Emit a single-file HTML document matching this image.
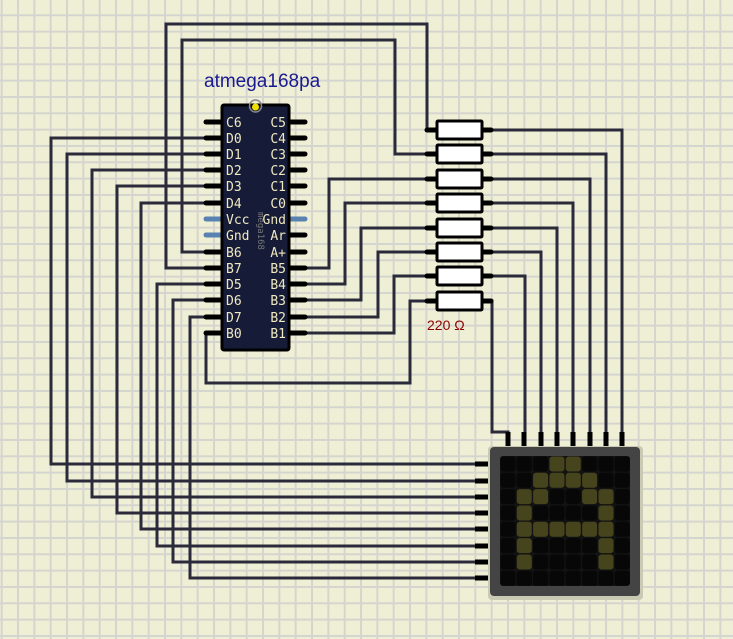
<!DOCTYPE html>
<html><head><meta charset="utf-8"><style>
html,body{margin:0;padding:0;}
body{width:733px;height:639px;overflow:hidden;background:#efefd5;}
svg{display:block;}
text{font-family:"DejaVu Sans Mono","Liberation Mono",monospace;}
</style></head><body>
<svg width="733" height="639" viewBox="0 0 733 639" xmlns="http://www.w3.org/2000/svg">
<defs>
<pattern id="g" x="0.7" y="14.3" width="16.333" height="16.333" patternUnits="userSpaceOnUse">
<rect x="0" y="0" width="2" height="16.333" fill="#d5d5cf"/>
<rect x="0" y="0" width="16.333" height="2" fill="#d5d5cf"/>
</pattern>
</defs>
<rect width="733" height="639" fill="#efefd5"/>
<rect width="733" height="639" fill="url(#g)"/>

<g fill="none" stroke="#2a2a3a" stroke-width="3" stroke-linejoin="miter">
<polyline points="205,268 166,268 166,24 427,24 427,130 436,130"/>
<polyline points="205,252 182,252 182,40 395,40 395,154 436,154"/>
<polyline points="306,268 329,268 329,179 436,179"/>
<polyline points="306,284 345,284 345,203 436,203"/>
<polyline points="306,300 361,300 361,228 436,228"/>
<polyline points="306,317 378,317 378,252 436,252"/>
<polyline points="306,333 394,333 394,276 436,276"/>
<polyline points="205,333 206,333 206,383 410,383 410,301 436,301"/>
<polyline points="482,130 622,130 622,432"/>
<polyline points="482,154 606,154 606,432"/>
<polyline points="482,179 590,179 590,432"/>
<polyline points="482,203 573,203 573,432"/>
<polyline points="482,228 557,228 557,432"/>
<polyline points="482,252 541,252 541,432"/>
<polyline points="482,276 525,276 525,432"/>
<polyline points="482,301 492,301 492,432 508,432 508,440"/>
<polyline points="205,138 51,138 51,464 476,464"/>
<polyline points="205,154 67,154 67,481 476,481"/>
<polyline points="205,170 92,170 92,497 476,497"/>
<polyline points="205,186 117,186 117,513 476,513"/>
<polyline points="205,203 141,203 141,529 476,529"/>
<polyline points="205,284 157,284 157,546 476,546"/>
<polyline points="205,300 173,300 173,562 476,562"/>
<polyline points="205,317 190,317 190,578 476,578"/>
</g>

<text x="204" y="87" font-size="19" fill="#1a1a90" style="font-family:'Liberation Sans',sans-serif">atmega168pa</text>

<g stroke="#000" stroke-width="5" stroke-linecap="round">
<line x1="206" y1="122" x2="222" y2="122"/><line x1="206" y1="138" x2="222" y2="138"/>
<line x1="206" y1="154" x2="222" y2="154"/><line x1="206" y1="170" x2="222" y2="170"/>
<line x1="206" y1="186" x2="222" y2="186"/><line x1="206" y1="203" x2="222" y2="203"/>
<line x1="206" y1="252" x2="222" y2="252"/><line x1="206" y1="268" x2="222" y2="268"/>
<line x1="206" y1="284" x2="222" y2="284"/><line x1="206" y1="300" x2="222" y2="300"/>
<line x1="206" y1="317" x2="222" y2="317"/><line x1="206" y1="333" x2="222" y2="333"/>
<line x1="289" y1="122" x2="305" y2="122"/><line x1="289" y1="138" x2="305" y2="138"/>
<line x1="289" y1="154" x2="305" y2="154"/><line x1="289" y1="170" x2="305" y2="170"/>
<line x1="289" y1="186" x2="305" y2="186"/><line x1="289" y1="203" x2="305" y2="203"/>
<line x1="289" y1="235" x2="305" y2="235"/><line x1="289" y1="252" x2="305" y2="252"/>
<line x1="289" y1="268" x2="305" y2="268"/><line x1="289" y1="284" x2="305" y2="284"/>
<line x1="289" y1="300" x2="305" y2="300"/><line x1="289" y1="317" x2="305" y2="317"/>
<line x1="289" y1="333" x2="305" y2="333"/>
</g>
<g stroke="#5a82b0" stroke-width="5" stroke-linecap="round">
<line x1="206" y1="219" x2="222" y2="219"/><line x1="206" y1="235" x2="222" y2="235"/>
<line x1="289" y1="219" x2="305" y2="219"/>
</g>
<rect x="222" y="105" width="67" height="245" rx="2" fill="#161c38" stroke="#000" stroke-width="3"/>
<circle cx="255.5" cy="106" r="6" fill="none" stroke="#888" stroke-width="1.5"/>
<circle cx="255.5" cy="107" r="3.5" fill="#f0e000"/>
<g font-size="13" fill="#f0e8c0">
<text x="226" y="127">C6</text><text x="226" y="143">D0</text><text x="226" y="159">D1</text>
<text x="226" y="175">D2</text><text x="226" y="191">D3</text><text x="226" y="208">D4</text>
<text x="226" y="224">Vcc</text><text x="226" y="240">Gnd</text><text x="226" y="257">B6</text>
<text x="226" y="273">B7</text><text x="226" y="289">D5</text><text x="226" y="305">D6</text>
<text x="226" y="322">D7</text><text x="226" y="338">B0</text>
<g text-anchor="end">
<text x="286" y="127">C5</text><text x="286" y="143">C4</text><text x="286" y="159">C3</text>
<text x="286" y="175">C2</text><text x="286" y="191">C1</text><text x="286" y="208">C0</text>
<text x="286" y="224">Gnd</text><text x="286" y="240">Ar</text><text x="286" y="257">A+</text>
<text x="286" y="273">B5</text><text x="286" y="289">B4</text><text x="286" y="305">B3</text>
<text x="286" y="322">B2</text><text x="286" y="338">B1</text>
</g>
</g>
<text x="0" y="0" font-size="9" fill="#777" transform="translate(258,212) rotate(90)">mega168</text>

<g stroke="#000" stroke-width="5" stroke-linecap="round">
<line x1="427" y1="130" x2="436" y2="130"/><line x1="482" y1="130" x2="491" y2="130"/>
<line x1="427" y1="154" x2="436" y2="154"/><line x1="482" y1="154" x2="491" y2="154"/>
<line x1="427" y1="179" x2="436" y2="179"/><line x1="482" y1="179" x2="491" y2="179"/>
<line x1="427" y1="203" x2="436" y2="203"/><line x1="482" y1="203" x2="491" y2="203"/>
<line x1="427" y1="228" x2="436" y2="228"/><line x1="482" y1="228" x2="491" y2="228"/>
<line x1="427" y1="252" x2="436" y2="252"/><line x1="482" y1="252" x2="491" y2="252"/>
<line x1="427" y1="276" x2="436" y2="276"/><line x1="482" y1="276" x2="491" y2="276"/>
<line x1="427" y1="301" x2="436" y2="301"/><line x1="482" y1="301" x2="491" y2="301"/>
</g>
<g fill="#fff" stroke="#000" stroke-width="3">
<rect x="437" y="121" width="45" height="18" rx="1"/>
<rect x="437" y="145" width="45" height="18" rx="1"/>
<rect x="437" y="170" width="45" height="18" rx="1"/>
<rect x="437" y="194" width="45" height="18" rx="1"/>
<rect x="437" y="219" width="45" height="18" rx="1"/>
<rect x="437" y="243" width="45" height="18" rx="1"/>
<rect x="437" y="267" width="45" height="18" rx="1"/>
<rect x="437" y="292" width="45" height="18" rx="1"/>
</g>
<text x="427" y="330" font-size="14" fill="#8a0000" style="font-family:'Liberation Sans',sans-serif">220 Ω</text>

<g stroke="#000" stroke-width="5">
<line x1="508" y1="432" x2="508" y2="448"/><line x1="524" y1="432" x2="524" y2="448"/>
<line x1="541" y1="432" x2="541" y2="448"/><line x1="557" y1="432" x2="557" y2="448"/>
<line x1="573" y1="432" x2="573" y2="448"/><line x1="590" y1="432" x2="590" y2="448"/>
<line x1="606" y1="432" x2="606" y2="448"/><line x1="622" y1="432" x2="622" y2="448"/>
<line x1="475" y1="464" x2="491" y2="464"/><line x1="475" y1="481" x2="491" y2="481"/>
<line x1="475" y1="497" x2="491" y2="497"/><line x1="475" y1="513" x2="491" y2="513"/>
<line x1="475" y1="529" x2="491" y2="529"/><line x1="475" y1="546" x2="491" y2="546"/>
<line x1="475" y1="562" x2="491" y2="562"/><line x1="475" y1="578" x2="491" y2="578"/>
</g>
<rect x="488" y="446" width="155" height="154" rx="4" fill="#c9c9b4"/>
<rect x="490" y="447" width="150" height="149" rx="4" fill="#444"/>
<rect x="500" y="456" width="130" height="130" rx="3" fill="#121212"/>
<g fill="#070707">
<rect x="500.5" y="456.5" width="15" height="15" rx="3"/><rect x="516.8" y="456.5" width="15" height="15" rx="3"/><rect x="533.1" y="456.5" width="15" height="15" rx="3"/><rect x="549.5" y="456.5" width="15" height="15" rx="3" fill="#45441c"/><rect x="565.8" y="456.5" width="15" height="15" rx="3" fill="#45441c"/><rect x="582.1" y="456.5" width="15" height="15" rx="3"/><rect x="598.5" y="456.5" width="15" height="15" rx="3"/><rect x="614.8" y="456.5" width="15" height="15" rx="3"/>
<rect x="500.5" y="472.8" width="15" height="15" rx="3"/><rect x="516.8" y="472.8" width="15" height="15" rx="3"/><rect x="533.1" y="472.8" width="15" height="15" rx="3" fill="#45441c"/><rect x="549.5" y="472.8" width="15" height="15" rx="3" fill="#45441c"/><rect x="565.8" y="472.8" width="15" height="15" rx="3" fill="#45441c"/><rect x="582.1" y="472.8" width="15" height="15" rx="3" fill="#45441c"/><rect x="598.5" y="472.8" width="15" height="15" rx="3"/><rect x="614.8" y="472.8" width="15" height="15" rx="3"/>
<rect x="500.5" y="489.1" width="15" height="15" rx="3"/><rect x="516.8" y="489.1" width="15" height="15" rx="3" fill="#45441c"/><rect x="533.1" y="489.1" width="15" height="15" rx="3" fill="#45441c"/><rect x="549.5" y="489.1" width="15" height="15" rx="3"/><rect x="565.8" y="489.1" width="15" height="15" rx="3"/><rect x="582.1" y="489.1" width="15" height="15" rx="3" fill="#45441c"/><rect x="598.5" y="489.1" width="15" height="15" rx="3" fill="#45441c"/><rect x="614.8" y="489.1" width="15" height="15" rx="3"/>
<rect x="500.5" y="505.5" width="15" height="15" rx="3"/><rect x="516.8" y="505.5" width="15" height="15" rx="3" fill="#45441c"/><rect x="533.1" y="505.5" width="15" height="15" rx="3"/><rect x="549.5" y="505.5" width="15" height="15" rx="3"/><rect x="565.8" y="505.5" width="15" height="15" rx="3"/><rect x="582.1" y="505.5" width="15" height="15" rx="3"/><rect x="598.5" y="505.5" width="15" height="15" rx="3" fill="#45441c"/><rect x="614.8" y="505.5" width="15" height="15" rx="3"/>
<rect x="500.5" y="521.8" width="15" height="15" rx="3"/><rect x="516.8" y="521.8" width="15" height="15" rx="3" fill="#45441c"/><rect x="533.1" y="521.8" width="15" height="15" rx="3" fill="#45441c"/><rect x="549.5" y="521.8" width="15" height="15" rx="3" fill="#45441c"/><rect x="565.8" y="521.8" width="15" height="15" rx="3" fill="#45441c"/><rect x="582.1" y="521.8" width="15" height="15" rx="3" fill="#45441c"/><rect x="598.5" y="521.8" width="15" height="15" rx="3" fill="#45441c"/><rect x="614.8" y="521.8" width="15" height="15" rx="3"/>
<rect x="500.5" y="538.1" width="15" height="15" rx="3"/><rect x="516.8" y="538.1" width="15" height="15" rx="3" fill="#45441c"/><rect x="533.1" y="538.1" width="15" height="15" rx="3"/><rect x="549.5" y="538.1" width="15" height="15" rx="3"/><rect x="565.8" y="538.1" width="15" height="15" rx="3"/><rect x="582.1" y="538.1" width="15" height="15" rx="3"/><rect x="598.5" y="538.1" width="15" height="15" rx="3" fill="#45441c"/><rect x="614.8" y="538.1" width="15" height="15" rx="3"/>
<rect x="500.5" y="554.5" width="15" height="15" rx="3"/><rect x="516.8" y="554.5" width="15" height="15" rx="3" fill="#45441c"/><rect x="533.1" y="554.5" width="15" height="15" rx="3"/><rect x="549.5" y="554.5" width="15" height="15" rx="3"/><rect x="565.8" y="554.5" width="15" height="15" rx="3"/><rect x="582.1" y="554.5" width="15" height="15" rx="3"/><rect x="598.5" y="554.5" width="15" height="15" rx="3" fill="#45441c"/><rect x="614.8" y="554.5" width="15" height="15" rx="3"/>
<rect x="500.5" y="570.8" width="15" height="15" rx="3"/><rect x="516.8" y="570.8" width="15" height="15" rx="3"/><rect x="533.1" y="570.8" width="15" height="15" rx="3"/><rect x="549.5" y="570.8" width="15" height="15" rx="3"/><rect x="565.8" y="570.8" width="15" height="15" rx="3"/><rect x="582.1" y="570.8" width="15" height="15" rx="3"/><rect x="598.5" y="570.8" width="15" height="15" rx="3"/><rect x="614.8" y="570.8" width="15" height="15" rx="3"/>
</g>
</svg>
</body></html>
